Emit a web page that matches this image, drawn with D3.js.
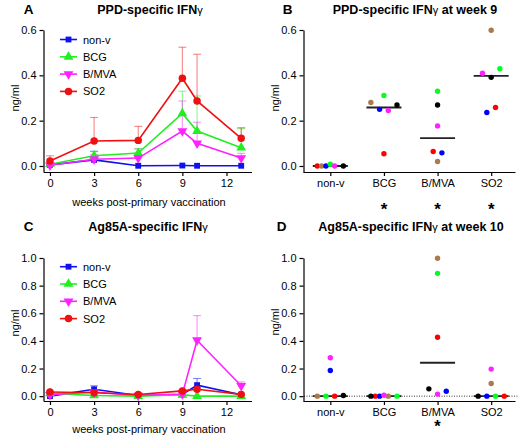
<!DOCTYPE html>
<html><head><meta charset="utf-8">
<script src="https://cdn.jsdelivr.net/npm/d3@7"></script>
<style>
body{margin:0;background:#fff;}
svg{display:block;font-family:"Liberation Sans",Arial,sans-serif;}
</style></head><body>
<svg id="c" width="520" height="436"></svg>
<script>
// ---------- DATA ----------
const weeks = [0, 3, 6, 9, 10, 13];
const seriesNames = ["non-v", "BCG", "B/MVA", "SO2"];
const xTicksWeeks = [0, 3, 6, 9, 12];

// Panel A: PPD-specific IFNγ (mean, upper error)
const ppdNonV = [0.005, 0.027, 0.001, 0.002, 0.001, 0.001];
const ppdNonVErr = [0.0, 0.038, 0.0, 0.0, 0.0, 0.0];
const ppdBCG = [0.008, 0.045, 0.057, 0.232, 0.154, 0.081];
const ppdBCGErr = [0.01, 0.018, 0.02, 0.098, 0.155, 0.084];
const ppdBMVA = [0.003, 0.03, 0.035, 0.154, 0.1, 0.035];
const ppdBMVAErr = [0.006, 0.02, 0.04, 0.133, 0.093, 0.021];
const ppdSO2 = [0.022, 0.11, 0.113, 0.387, 0.287, 0.122];
const ppdSO2Err = [0.023, 0.104, 0.062, 0.137, 0.206, 0.047];

// Panel C: Ag85A-specific IFNγ
const agNonV = [0.0, 0.05, 0.005, 0.012, 0.08, 0.01];
const agNonVErr = [0.0, 0.025, 0.0, 0.0, 0.048, 0.0];
const agBCG = [0.02, 0.005, 0.0, 0.01, 0.0, 0.0];
const agBCGErr = [0.0, 0.0, 0.0, 0.0, 0.0, 0.0];
const agBMVA = [0.01, 0.03, 0.005, 0.015, 0.405, 0.075];
const agBMVAErr = [0.0, 0.01, 0.0, 0.0, 0.178, 0.028];
const agSO2 = [0.03, 0.025, 0.012, 0.038, 0.05, 0.013];
const agSO2Err = [0.006, 0.01, 0.0, 0.005, 0.01, 0.0];

// Panels B & D: individual animals (order: animal 1..6)
const animals = ["m1", "m2", "m3", "m4", "m5", "m6"];
const groups = ["non-v", "BCG", "B/MVA", "SO2"];
// values per group, per animal
const ppdWk9 = [
  [0.0, 0.0, 0.0, 0.008, 0.0, 0.0],
  [0.054, 0.28, 0.25, 0.311, 0.245, 0.269],
  [0.064, 0.02, 0.058, 0.33, 0.177, 0.269],
  [0.258, 0.599, 0.236, 0.429, 0.409, 0.391]
];
const ppdWk9Slot = [
  [-3, -2, -1, 0, 1, 3],
  [0, -3, -1, 0, 1, 3],
  [-1, 0, 1, 0, 0, 0],
  [1, 0, -1, 2, -2, 0]
];
const ppdWk9Median = [0.0, 0.258, 0.123, 0.398];
const ppdWk9Star = [false, true, true, true];

const agWk10 = [
  [0.0, 0.0, 0.186, 0.0, 0.278, 0.005],
  [0.0, 0.0, 0.0, 0.0, 0.007, 0.0],
  [0.426, 0.998, 0.036, 0.889, 0.015, 0.053],
  [0.0, 0.092, 0.0, 0.0, 0.196, 0.0]
];
const agWk10Slot = [
  [1, -3, 0, -1, 0, 3],
  [-2, 1, -1, 3, 0, -3],
  [0, 0, 2, 0, 0, -2],
  [3, 0, -1, 1, 0, -3]
];
const agWk10Median = [0.0, 0.0, 0.242, 0.0];
const agWk10Star = [false, false, true, false];

const yTicksA = [0, 0.2, 0.4, 0.6];
const yTicksC = [0, 0.2, 0.4, 0.6, 0.8, 1.0];

// ---------- STYLE ----------
const seriesColor = {"non-v": "#1010f0", "BCG": "#22ee22", "B/MVA": "#ff22ff", "SO2": "#ee1111"};
const animalColor = {m1: "#ff0000", m2: "#a87a4c", m3: "#0000ff", m4: "#00ff22", m5: "#ff22ff", m6: "#000000"};
const seriesSymbol = {
  "non-v": d3.symbol().type(d3.symbolSquare).size(34),
  "BCG": d3.symbol().type(d3.symbolTriangle).size(42),
  "B/MVA": d3.symbol().type(d3.symbolTriangle).size(42),
  "SO2": d3.symbol().type(d3.symbolCircle).size(44)
};
const seriesRot = {"non-v": 0, "BCG": 0, "B/MVA": 180, "SO2": 0};

const svg = d3.select("#c");

function styleAxis(g) {
  g.selectAll("path,line").attr("stroke", "#000").attr("stroke-width", 1.2);
  g.selectAll("text").attr("font-size", 11).attr("fill", "#000")
    .attr("font-family", "Liberation Sans, Arial, sans-serif");
}

function title(x, y, letter, lx, text, tx, anchor) {
  svg.append("text").attr("x", lx).attr("y", y).attr("font-size", 13.5).attr("font-weight", "bold")
    .attr("text-anchor", "middle").text(letter);
  const t = svg.append("text").attr("x", tx).attr("y", y).attr("font-size", 12.5).attr("font-weight", "bold")
    .attr("text-anchor", anchor);
  t.append("tspan").text(text[0]);
  t.append("tspan").attr("font-weight", "normal").attr("font-size", 11).text("γ");
  if (text[1]) t.append("tspan").text(text[1]);
}

function yLabel(x, y) {
  svg.append("text").attr("transform", `translate(${x},${y}) rotate(-90)`)
    .attr("text-anchor", "middle").attr("font-size", 11).text("ng/ml");
}

// ---------- LINE PANELS ----------
function linePanel(opts) {
  const x = d3.scaleLinear().domain([-0.44, 13.7]).range([43.5, 251.5]);
  const y = d3.scaleLinear().domain(opts.yDomain).range(opts.yRange);
  const gx = svg.append("g").attr("transform", `translate(0,${opts.yRange[0]})`)
    .call(d3.axisBottom(x).tickValues(xTicksWeeks).tickFormat(d3.format("d")).tickSize(4).tickSizeOuter(0));
  styleAxis(gx);
  const gy = svg.append("g").attr("transform", `translate(43.5,0)`)
    .call(d3.axisLeft(y).tickValues(opts.yTicks).tickFormat(d3.format(".1f")).tickSize(4).tickSizeOuter(0));
  styleAxis(gy);

  svg.append("text").attr("x", 149).attr("y", opts.xLabelY).attr("text-anchor", "middle")
    .attr("font-size", 11).text("weeks post-primary vaccination");

  opts.series.forEach((s) => {
    const col = seriesColor[s.name];
    const pts = weeks.map((w, i) => ({w, v: s.mean[i], e: s.err[i]}));
    const eg = svg.append("g").attr("stroke", col).attr("stroke-opacity", 0.5).attr("stroke-width", 1.1);
    pts.filter(p => p.e > 0).forEach(p => {
      eg.append("line").attr("x1", x(p.w)).attr("x2", x(p.w)).attr("y1", y(p.v)).attr("y2", y(p.v + p.e));
      eg.append("line").attr("x1", x(p.w) - 4).attr("x2", x(p.w) + 4).attr("y1", y(p.v + p.e)).attr("y2", y(p.v + p.e));
    });
  });
  opts.series.forEach((s) => {
    const col = seriesColor[s.name];
    const pts = weeks.map((w, i) => ({w, v: s.mean[i]}));
    svg.append("path").datum(pts).attr("fill", "none").attr("stroke", col).attr("stroke-width", 1.6)
      .attr("d", d3.line().x(d => x(d.w)).y(d => y(d.v)));
    svg.append("g").selectAll("path").data(pts).join("path")
      .attr("transform", d => `translate(${x(d.w)},${y(d.v)}) rotate(${seriesRot[s.name]})`)
      .attr("d", seriesSymbol[s.name]()).attr("fill", col);
  });

  // legend
  seriesNames.forEach((n, i) => {
    const ly = opts.legendY + i * 17.3;
    const col = seriesColor[n];
    svg.append("line").attr("x1", 60).attr("x2", 77).attr("y1", ly).attr("y2", ly)
      .attr("stroke", col).attr("stroke-width", 1.6);
    svg.append("path").attr("transform", `translate(68.5,${ly}) rotate(${seriesRot[n]})`)
      .attr("d", seriesSymbol[n]()).attr("fill", col);
    svg.append("text").attr("x", 83).attr("y", ly + 4).attr("font-size", 11).text(n);
  });
}

linePanel({
  yDomain: [-0.0265, 0.6], yRange: [172, 30], yTicks: yTicksA, xLabelY: 206, legendY: 39.5,
  series: [
    {name: "non-v", mean: ppdNonV, err: ppdNonVErr},
    {name: "BCG", mean: ppdBCG, err: ppdBCGErr},
    {name: "B/MVA", mean: ppdBMVA, err: ppdBMVAErr},
    {name: "SO2", mean: ppdSO2, err: ppdSO2Err}
  ]
});
linePanel({
  yDomain: [-0.035, 1.0], yRange: [401, 258], yTicks: yTicksC, xLabelY: 433, legendY: 266.7,
  series: [
    {name: "non-v", mean: agNonV, err: agNonVErr},
    {name: "BCG", mean: agBCG, err: agBCGErr},
    {name: "B/MVA", mean: agBMVA, err: agBMVAErr},
    {name: "SO2", mean: agSO2, err: agSO2Err}
  ]
});

// ---------- DOT PANELS ----------
function dotPanel(opts) {
  const x = d3.scalePoint().domain(groups).range([303.5, 518]).padding(0.5);
  const y = d3.scaleLinear().domain(opts.yDomain).range(opts.yRange);
  const gx = svg.append("g").attr("transform", `translate(0,${opts.yRange[0]})`)
    .call(d3.axisBottom(x).tickSize(4).tickSizeOuter(0));
  gx.select(".domain").remove();
  gx.append("line").attr("x1", 303.5).attr("x2", 515.5).attr("y1", 0.5).attr("y2", 0.5);
  styleAxis(gx);
  const gy = svg.append("g").attr("transform", `translate(303.5,0)`)
    .call(d3.axisLeft(y).tickValues(opts.yTicks).tickFormat(d3.format(".1f")).tickSize(4).tickSizeOuter(0));
  styleAxis(gy);

  if (opts.zeroLine) {
    svg.append("line").attr("x1", 304).attr("x2", 518).attr("y1", y(0)).attr("y2", y(0))
      .attr("stroke", "#000").attr("stroke-width", 0.8).attr("stroke-dasharray", "1,1.5");
  }
  const slotW = 4.35;
  groups.forEach((g, gi) => {
    const cx = x(g);
    svg.append("line").attr("x1", cx - 17.5).attr("x2", cx + 17.5)
      .attr("y1", y(opts.median[gi])).attr("y2", y(opts.median[gi]))
      .attr("stroke", "#222").attr("stroke-width", 1.8);
    const pts = animals.map((a, ai) => ({a, v: opts.values[gi][ai], s: opts.slots[gi][ai]}));
    svg.append("g").selectAll("circle").data(pts).join("circle")
      .attr("cx", d => cx + d.s * slotW).attr("cy", d => y(d.v)).attr("r", 2.7)
      .attr("fill", d => animalColor[d.a]);
    if (opts.star[gi]) {
      svg.append("text").attr("x", cx).attr("y", opts.starY).attr("text-anchor", "middle")
        .attr("font-size", opts.starSize).attr("font-weight", "bold").text("*");
    }
  });
}

dotPanel({yDomain: [-0.0265, 0.6], yRange: [172, 30], yTicks: yTicksA, values: ppdWk9, slots: ppdWk9Slot,
  median: ppdWk9Median, star: ppdWk9Star, starY: 215, starSize: 17, zeroLine: false});
dotPanel({yDomain: [-0.035, 1.0], yRange: [401, 258], yTicks: yTicksC, values: agWk10, slots: agWk10Slot,
  median: agWk10Median, star: agWk10Star, starY: 432, starSize: 16.5, zeroLine: true});

// ---------- TITLES & LABELS ----------
title(0, 13.5, "A", 28.5, ["PPD-specific IFN"], 150, "middle");
title(0, 13.5, "B", 287.5, ["PPD-specific IFN", " at week 9"], 415, "middle");
title(0, 230.5, "C", 28.5, ["Ag85A-specific IFN"], 148, "middle");
title(0, 230.5, "D", 281.5, ["Ag85A-specific IFN", " at week 10"], 411, "middle");
yLabel(18.5, 98);
yLabel(278.5, 98);
yLabel(18.5, 323);
yLabel(278.5, 322);
</script>
</body></html>
